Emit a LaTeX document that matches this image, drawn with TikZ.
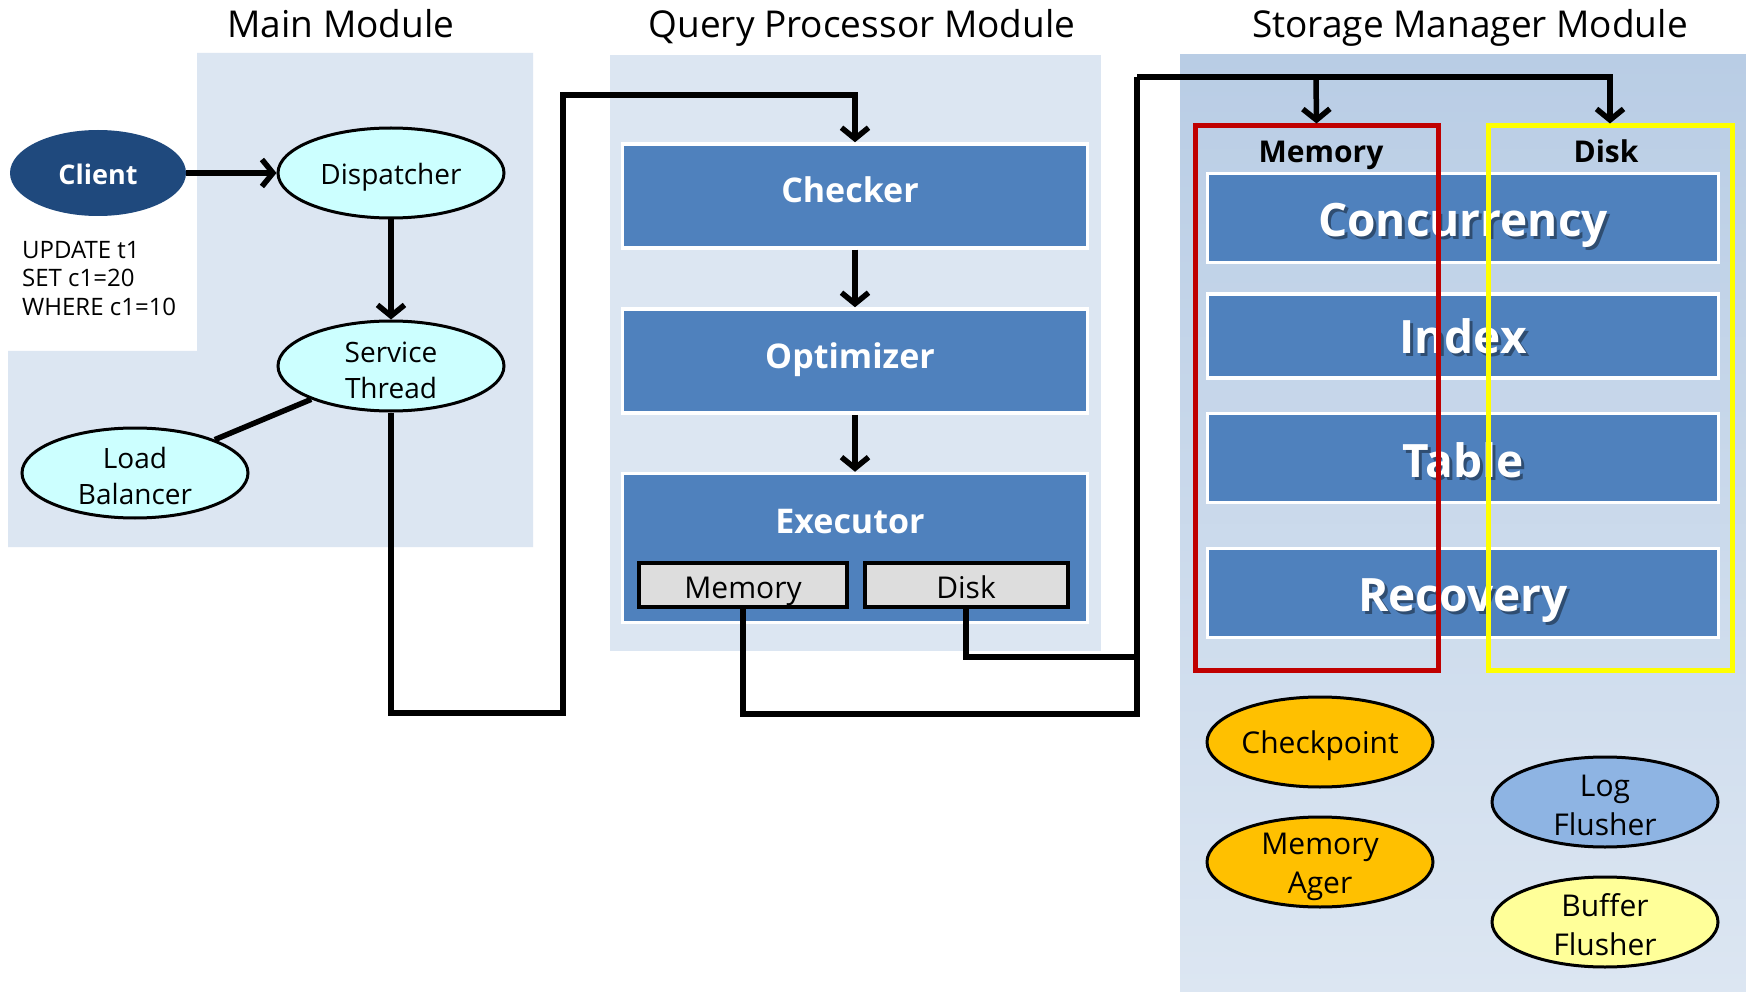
\documentclass[tikz,border=0pt]{standalone}
\usepackage{fontspec}
\setmainfont{Open Sans}
\usetikzlibrary{arrows.meta,shapes.geometric}
\definecolor{bgl}{HTML}{DCE6F2}
\definecolor{smtop}{HTML}{B9CDE5}
\definecolor{smbot}{HTML}{DCE6F2}
\definecolor{boxblue}{HTML}{4F81BD}
\definecolor{clientblue}{HTML}{1F497D}
\definecolor{cyanfill}{HTML}{CCFFFF}
\definecolor{subgrey}{HTML}{DDDDDD}
\definecolor{ckorange}{HTML}{FFC000}
\definecolor{logblue}{HTML}{8EB4E3}
\definecolor{bufyellow}{HTML}{FFFF99}
\definecolor{memred}{HTML}{C00000}
\definecolor{diskyellow}{HTML}{FFFF00}
\begin{document}
\begin{tikzpicture}[x=1pt,y=-1pt,
  title/.style={anchor=base, font=\fontsize{37}{44}\selectfont, inner sep=0},
  conn/.style={line width=5.5pt},
  arr/.style={conn, -{Straight Barb[length=11pt,width=27pt]}},
  proc/.style={ellipse, draw=black, line width=3pt, minimum width=226pt, minimum height=90pt, inner sep=0pt},
  ptext/.style={align=center, inner sep=0, font=\fontsize{28}{36}\selectfont},
  smptext/.style={align=center, inner sep=0, font=\fontsize{30}{39}\selectfont},
  qpbox/.style={rectangle, fill=boxblue, draw=white, line width=3.5pt, minimum width=465pt, inner sep=0pt},
  qptext/.style={anchor=base, text=white, font=\bfseries\fontsize{34}{40}\selectfont, inner sep=0},
  smbox/.style={rectangle, fill=boxblue, draw=white, line width=3.5pt, minimum width=511pt, minimum height=89pt, inner sep=0pt},
  smtext/.style={anchor=base, text=white, font=\bfseries\fontsize{46}{52}\selectfont, inner sep=0},
  smshadow/.style={anchor=base, text=black, opacity=0.4, font=\bfseries\fontsize{46}{52}\selectfont, inner sep=0},
  subbox/.style={rectangle, fill=subgrey, draw=black, line width=4pt, minimum height=44pt, inner sep=0pt},
  subtext/.style={anchor=base, inner sep=0, font=\fontsize{30}{36}\selectfont},
  sql/.style={anchor=base west, inner sep=0, font=\fontsize{24}{29}\selectfont},
  collabel/.style={anchor=base, inner sep=0, font=\bfseries\fontsize{30}{36}\selectfont},
  colbox/.style={rectangle, line width=5pt, minimum height=544pt, inner sep=0}
]
\useasboundingbox (0,0) rectangle (1746,992);
\fill[white] (0,0) rectangle (1746,992);

% backgrounds
\fill[bgl] (197,53) -- (533,53) -- (533,547) -- (8,547) -- (8,351) -- (197,351) -- cycle;
\fill[bgl] (610,55) rectangle (1101,651);
\shade[top color=smtop, bottom color=smbot] (1180,55) rectangle (1746,992);

% titles
\node[title] (tmain) at (341,38) {Main Module};
\node[title] (tqp) at (862,38) {Query Processor Module};
\node[title] (tsm) at (1470,38) {Storage Manager Module};

% SQL text
\node[sql] (sql1) at (22,259) {UPDATE t1};
\node[sql] (sql2) at (22,287) {SET c1=20};
\node[sql] (sql3) at (22,316) {WHERE c1=10};

% Query processor boxes
\node[qpbox, minimum height=104pt] (chk) at (855,196) {};
\node[qptext] (chkt) at (850,203) {Checker};
\node[qpbox, minimum height=104pt] (opt) at (855,361) {};
\node[qptext] (optt) at (850,369) {Optimizer};
\node[qpbox, minimum height=149pt] (exe) at (855,548) {};
\node[qptext] (exet) at (850,533) {Executor};
\node[subbox, minimum width=208pt] (exmem) at (743,585) {};
\node[subtext] (exmemt) at (743,598) {Memory};
\node[subbox, minimum width=203pt] (exdisk) at (966,585) {};
\node[subtext] (exdiskt) at (966,598) {Disk};

% Storage manager boxes
\node[smbox] (conc) at (1463,218) {};
\node[smbox, minimum height=84pt] (idx) at (1463,336) {};
\node[smbox] (tbl) at (1463,458) {};
\node[smbox] (rec) at (1463,593) {};
\node[smshadow] (concs) at (1466,240) {Concurrency};
\node[smtext] (conct) at (1463,237) {Concurrency};
\node[smshadow] (idxs) at (1466,356) {Index};
\node[smtext] (idxt) at (1463,353) {Index};
\node[smshadow] (tbls) at (1466,480) {Table};
\node[smtext] (tblt) at (1463,477) {Table};
\node[smshadow] (recs) at (1466,614) {Recovery};
\node[smtext] (rect) at (1463,611) {Recovery};

\node[collabel] (memlab) at (1321,163) {Memory};
\node[collabel] (disklab) at (1606,163) {Disk};

\node[colbox, draw=memred, minimum width=243pt] (redbox) at (1316.5,398) {};
\node[colbox, draw=diskyellow, minimum width=244pt] (yelbox) at (1610,398) {};

% main module nodes
\node[ellipse, fill=clientblue, minimum width=176pt, minimum height=86pt, inner sep=0] (client) at (98,173) {};
\node[inner sep=0, text=white, font=\bfseries\fontsize{27}{32}\selectfont] (clientt) at (98,174) {Client};
\node[proc, fill=cyanfill] (disp) at (391,173) {};
\node[ptext] (dispt) at (391,177) {Dispatcher};
\node[proc, fill=cyanfill] (st) at (391,366) {};
\node[ptext] (stt) at (391,370) {Service\\Thread};
\node[proc, fill=cyanfill] (lb) at (135,473) {};
\node[ptext] (lbt) at (135,476) {Load\\Balancer};

% storage manager threads
\node[proc, fill=ckorange] (ckp) at (1320,742) {};
\node[smptext] (ckpt) at (1320,746) {Checkpoint};
\node[proc, fill=ckorange] (mage) at (1320,862) {};
\node[smptext] (maget) at (1320,867) {Memory\\Ager};
\node[proc, fill=logblue] (logf) at (1605,802) {};
\node[smptext] (logft) at (1605,805) {Log\\Flusher};
\node[proc, fill=bufyellow] (buff) at (1605,922) {};
\node[smptext] (bufft) at (1605,925) {Buffer\\Flusher};

% connectors
\draw[arr] (client) -- (disp);
\draw[arr] (disp) -- (st);
\draw[conn] (lb) -- (st);

\coordinate (s1) at (391,713);
\coordinate (s2) at (563,713);
\coordinate (s3) at (563,95);
\draw[arr] (st.south) -- (s1) -- (s2) -- (s3) -| (chk.north);
\draw[arr] (chk) -- (opt);
\draw[arr] (opt) -- (exe);

\coordinate (m2) at (1137,714);
\coordinate (d2) at (1137,657);
\coordinate (t0) at (1137,77);
\coordinate (tb) at (1316,77);
\draw[conn] (exmem.south) |- (m2) -- (t0);
\draw[conn] (exdisk.south) |- (d2);
\draw[arr] (t0) -| (yelbox.north);
\draw[arr] (tb) -- (redbox.north);
\end{tikzpicture}
\end{document}
